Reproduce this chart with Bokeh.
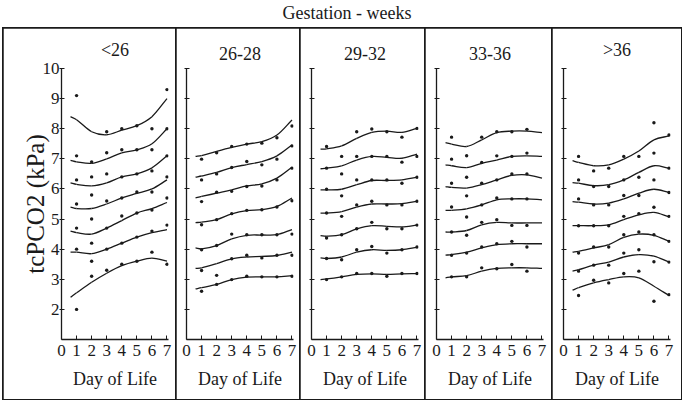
from bokeh.plotting import figure
from bokeh.models import FixedTicker, Div
from bokeh.layouts import row, column
from bokeh.embed import file_html
from bokeh.resources import INLINE

# ---------------- data ----------------
main_title = "Gestation - weeks"
panel_titles = ["<26", "26-28", "29-32", "33-36", ">36"]
y_label = "tcPCO2 (kPa)"
x_label = "Day of Life"
x_ticks = [0, 1, 2, 3, 4, 5, 6, 7]
y_ticks = [2, 3, 4, 5, 6, 7, 8, 9, 10]

# days at which the fitted centile curves are read
curve_days = [0.6, 1, 2, 3, 4, 5, 6, 7]

# seven centile curves per panel (top to bottom)
curves_lt26 = [
    [8.40, 8.30, 7.90, 7.80, 7.95, 8.10, 8.40, 9.00],
    [6.95, 6.90, 6.85, 7.00, 7.20, 7.30, 7.50, 8.00],
    [6.20, 6.15, 6.10, 6.20, 6.40, 6.50, 6.70, 7.10],
    [5.40, 5.35, 5.35, 5.50, 5.70, 5.85, 6.00, 6.30],
    [4.60, 4.55, 4.50, 4.70, 4.95, 5.20, 5.35, 5.55],
    [3.90, 3.90, 3.85, 4.00, 4.20, 4.40, 4.55, 4.65],
    [2.40, 2.55, 2.90, 3.20, 3.45, 3.60, 3.70, 3.60],
]
curves_26_28 = [
    [7.08, 7.11, 7.25, 7.38, 7.49, 7.57, 7.79, 8.29],
    [6.39, 6.43, 6.55, 6.71, 6.81, 6.91, 7.10, 7.46],
    [5.70, 5.75, 5.86, 5.97, 6.10, 6.17, 6.36, 6.72],
    [4.88, 4.90, 4.98, 5.17, 5.28, 5.31, 5.42, 5.70],
    [4.04, 4.01, 4.12, 4.34, 4.46, 4.47, 4.48, 4.65],
    [3.36, 3.38, 3.52, 3.68, 3.74, 3.76, 3.79, 3.90],
    [2.68, 2.72, 2.83, 2.99, 3.07, 3.08, 3.08, 3.12],
]
curves_29_32 = [
    [7.32, 7.33, 7.43, 7.68, 7.88, 7.92, 7.88, 8.01],
    [6.67, 6.69, 6.77, 6.96, 7.08, 7.05, 7.02, 7.16],
    [5.97, 5.97, 5.99, 6.14, 6.28, 6.28, 6.30, 6.39],
    [5.20, 5.20, 5.25, 5.40, 5.50, 5.50, 5.51, 5.59],
    [4.45, 4.43, 4.48, 4.67, 4.78, 4.76, 4.74, 4.80],
    [3.71, 3.69, 3.74, 3.90, 3.98, 3.96, 3.98, 4.06],
    [2.99, 3.01, 3.08, 3.16, 3.18, 3.16, 3.18, 3.19],
]
curves_33_36 = [
    [7.54, 7.49, 7.41, 7.63, 7.87, 7.92, 7.92, 7.87],
    [6.80, 6.77, 6.71, 6.85, 6.96, 7.08, 7.10, 7.08],
    [6.08, 6.05, 6.03, 6.14, 6.30, 6.45, 6.47, 6.36],
    [5.29, 5.29, 5.34, 5.47, 5.64, 5.67, 5.67, 5.64],
    [4.57, 4.57, 4.62, 4.81, 4.89, 4.87, 4.87, 4.87],
    [3.80, 3.82, 3.90, 4.04, 4.15, 4.18, 4.18, 4.18],
    [3.05, 3.08, 3.12, 3.27, 3.36, 3.38, 3.38, 3.36],
]
curves_gt36 = [
    [6.94, 6.88, 6.77, 6.80, 6.99, 7.26, 7.63, 7.76],
    [6.21, 6.19, 6.11, 6.14, 6.30, 6.55, 6.77, 6.69],
    [5.58, 5.56, 5.50, 5.53, 5.67, 5.86, 5.99, 5.88],
    [4.78, 4.78, 4.78, 4.81, 4.98, 5.14, 5.22, 5.07],
    [3.90, 3.93, 4.04, 4.15, 4.39, 4.50, 4.46, 4.26],
    [3.27, 3.32, 3.47, 3.57, 3.74, 3.82, 3.77, 3.57],
    [2.64, 2.72, 2.88, 2.99, 3.08, 3.05, 2.77, 2.46],
]

# observed centile values: one list of seven values per day of life
dot_days_lt26 = [1, 2, 3, 4, 5, 6, 7]
dots_lt26 = [
    [9.1, 7.1, 6.3, 5.5, 4.7, 4.0, 2.0],
    [6.9, 6.4, 5.8, 5.0, 4.2, 3.6, 3.1],
    [7.9, 7.2, 6.5, 5.6, 4.7, 4.0, 3.3],
    [8.0, 7.3, 6.4, 5.7, 5.1, 4.2, 3.5],
    [8.1, 7.3, 6.5, 5.9, 5.2, 4.4, 3.6],
    [8.0, 7.3, 6.6, 5.9, 5.3, 4.6, 3.9],
    [9.3, 8.0, 7.1, 6.4, 5.7, 4.8, 3.5],
]
dot_days_26_28 = [1, 2, 3, 4, 5, 6, 7]
dots_26_28 = [
    [6.99, 6.30, 5.58, 4.81, 3.98, 3.29, 2.60],
    [7.20, 6.50, 5.89, 4.98, 4.12, 3.13, 2.83],
    [7.41, 6.71, 5.92, 5.18, 4.50, 3.68, 2.99],
    [7.49, 6.91, 6.08, 5.29, 4.48, 3.80, 3.10],
    [7.52, 6.80, 6.10, 5.31, 4.48, 3.71, 3.08],
    [7.70, 6.99, 6.30, 5.40, 4.48, 3.80, 3.08],
    [8.09, 7.43, 6.69, 5.61, 4.50, 3.80, 3.10],
]
dot_days_29_32 = [1, 2, 3, 4, 5, 6, 7]
dots_29_32 = [
    [7.41, 6.69, 5.99, 5.20, 4.37, 3.69, 2.99],
    [7.08, 6.50, 5.77, 5.09, 4.48, 3.65, 3.08],
    [7.90, 7.08, 6.30, 5.47, 4.68, 3.98, 3.19],
    [7.99, 7.08, 6.30, 5.59, 4.89, 4.09, 3.19],
    [7.90, 7.08, 6.30, 5.47, 4.68, 3.87, 3.10],
    [7.72, 6.89, 6.19, 5.47, 4.68, 3.98, 3.19],
    [8.01, 7.08, 6.39, 5.59, 4.80, 4.07, 3.19],
]
dot_days_33_36 = [1, 2, 3, 4, 5, 6]
dots_33_36 = [
    [7.72, 6.99, 6.19, 5.40, 4.57, 3.80, 3.08],
    [7.10, 6.39, 5.77, 5.07, 4.46, 3.87, 3.08],
    [7.72, 6.88, 6.19, 5.47, 4.89, 4.07, 3.38],
    [7.90, 7.10, 6.30, 5.70, 4.98, 4.18, 3.35],
    [7.90, 7.08, 6.50, 5.67, 4.79, 4.26, 3.49],
    [7.98, 7.19, 6.50, 5.67, 4.79, 4.07, 3.27],
]
dot_days_gt36 = [1, 2, 3, 4, 5, 6, 7]
dots_gt36 = [
    [7.08, 6.30, 5.67, 4.78, 3.87, 3.27, 2.46],
    [6.60, 6.08, 5.47, 4.78, 4.07, 3.47, 2.97],
    [6.69, 6.08, 5.47, 4.78, 4.07, 3.47, 2.88],
    [7.08, 6.30, 5.78, 5.09, 4.48, 3.87, 3.19],
    [7.08, 6.39, 5.78, 5.18, 4.57, 3.98, 3.27],
    [8.20, 7.19, 6.30, 5.39, 4.48, 3.58, 2.27],
    [7.79, 6.69, 5.88, 5.09, 4.26, 3.57, 2.49],
]

all_curves = [curves_lt26, curves_26_28, curves_29_32, curves_33_36, curves_gt36]
all_dot_days = [dot_days_lt26, dot_days_26_28, dot_days_29_32, dot_days_33_36, dot_days_gt36]
all_dots = [dots_lt26, dots_26_28, dots_29_32, dots_33_36, dots_gt36]

# ---------------- styling ----------------
FONT = "Liberation Serif"
INK = "#1a1a1a"
widths = [173, 124, 125, 127, 129]
left_borders = [58, 10, 11, 11, 11]
FRAME_W = 107
PANEL_H = 371


def smooth_segments(xs, ys):
    """Cubic Hermite segments (as Bezier control points) through the curve knots."""
    n = len(xs)
    m = []
    for i in range(n):
        if i == 0:
            m.append((ys[1] - ys[0]) / (xs[1] - xs[0]))
        elif i == n - 1:
            m.append((ys[-1] - ys[-2]) / (xs[-1] - xs[-2]))
        else:
            m.append((ys[i + 1] - ys[i - 1]) / (xs[i + 1] - xs[i - 1]))
    seg = dict(x0=[], y0=[], x1=[], y1=[], cx0=[], cy0=[], cx1=[], cy1=[])
    for i in range(n - 1):
        h = xs[i + 1] - xs[i]
        seg["x0"].append(xs[i]); seg["y0"].append(ys[i])
        seg["x1"].append(xs[i + 1]); seg["y1"].append(ys[i + 1])
        seg["cx0"].append(xs[i] + h / 3); seg["cy0"].append(ys[i] + m[i] * h / 3)
        seg["cx1"].append(xs[i + 1] - h / 3); seg["cy1"].append(ys[i + 1] - m[i + 1] * h / 3)
    return seg


figs = []
for k in range(5):
    first = k == 0
    p = figure(
        width=widths[k], height=PANEL_H,
        x_range=(0, 7.1), y_range=(1, 10),
        title=panel_titles[k],
        output_backend="svg", toolbar_location=None, tools="",
        min_border_left=left_borders[k],
        min_border_right=widths[k] - left_borders[k] - FRAME_W,
        min_border_top=40, min_border_bottom=60,
        styles={"outline": "2px solid #1a1a1a", "outline-offset": "-1px"},
    )
    p.background_fill_color = "white"
    p.border_fill_color = "white"
    p.outline_line_color = None
    p.grid.visible = False

    p.title.align = "center"
    p.title.text_font = FONT
    p.title.text_font_size = "18px"
    p.title.text_font_style = "normal"
    p.title.text_color = INK
    p.title.standoff = 18

    xa = p.xaxis[0]
    xa.ticker = FixedTicker(ticks=x_ticks)
    xa.major_tick_in = 4
    xa.major_tick_out = 0
    xa.minor_tick_line_color = None
    xa.axis_line_color = INK
    xa.axis_line_width = 1.3
    xa.major_tick_line_color = INK
    xa.major_label_text_font = FONT
    xa.major_label_text_font_size = "17px"
    xa.major_label_text_color = INK
    xa.major_label_standoff = 5
    xa.axis_label = x_label
    xa.axis_label_text_font = FONT
    xa.axis_label_text_font_size = "18px"
    xa.axis_label_text_font_style = "normal"
    xa.axis_label_text_color = INK
    xa.axis_label_standoff = 10

    ya = p.yaxis[0]
    ya.ticker = FixedTicker(ticks=y_ticks)
    ya.major_tick_in = 3
    ya.major_tick_out = 2
    ya.minor_tick_line_color = None
    ya.axis_line_color = INK
    ya.axis_line_width = 1.3
    ya.major_tick_line_color = INK
    ya.major_label_text_font = FONT
    ya.major_label_text_color = INK
    ya.major_label_text_font_size = "17px"
    ya.major_label_standoff = 0
    if first:
        ya.axis_label = y_label
        ya.axis_label_text_font = FONT
        ya.axis_label_text_font_size = "25px"
        ya.axis_label_text_font_style = "normal"
        ya.axis_label_text_color = INK
        ya.axis_label_standoff = -9
    else:
        ya.major_label_overrides = {t: "" for t in y_ticks}

    for cy in all_curves[k]:
        seg = smooth_segments(curve_days, cy)
        p.bezier(x0="x0", y0="y0", x1="x1", y1="y1", cx0="cx0", cy0="cy0",
                 cx1="cx1", cy1="cy1", source=seg, line_color=INK, line_width=1.3)

    dx, dy = [], []
    for d, vals in zip(all_dot_days[k], all_dots[k]):
        for v in vals:
            dx.append(d)
            dy.append(v)
    p.scatter(dx, dy, marker="circle", size=3.4, fill_color=INK, line_color=None)
    figs.append(p)

total_w = sum(widths)
title_div = Div(
    text='<div style="font-family: \'Liberation Serif\', serif; font-size: 18px; '
         'width: %dpx; text-align: center; line-height: 18px; padding-top: 3px; '
         'color: #1a1a1a;">%s</div>' % (total_w, main_title),
    width=total_w, height=22,
)
panels_row = row(*figs)
layout = column(title_div, panels_row,
                styles={"margin-left": "3px", "margin-top": "-4px"})

open("out.html", "w").write(file_html(layout, INLINE))
